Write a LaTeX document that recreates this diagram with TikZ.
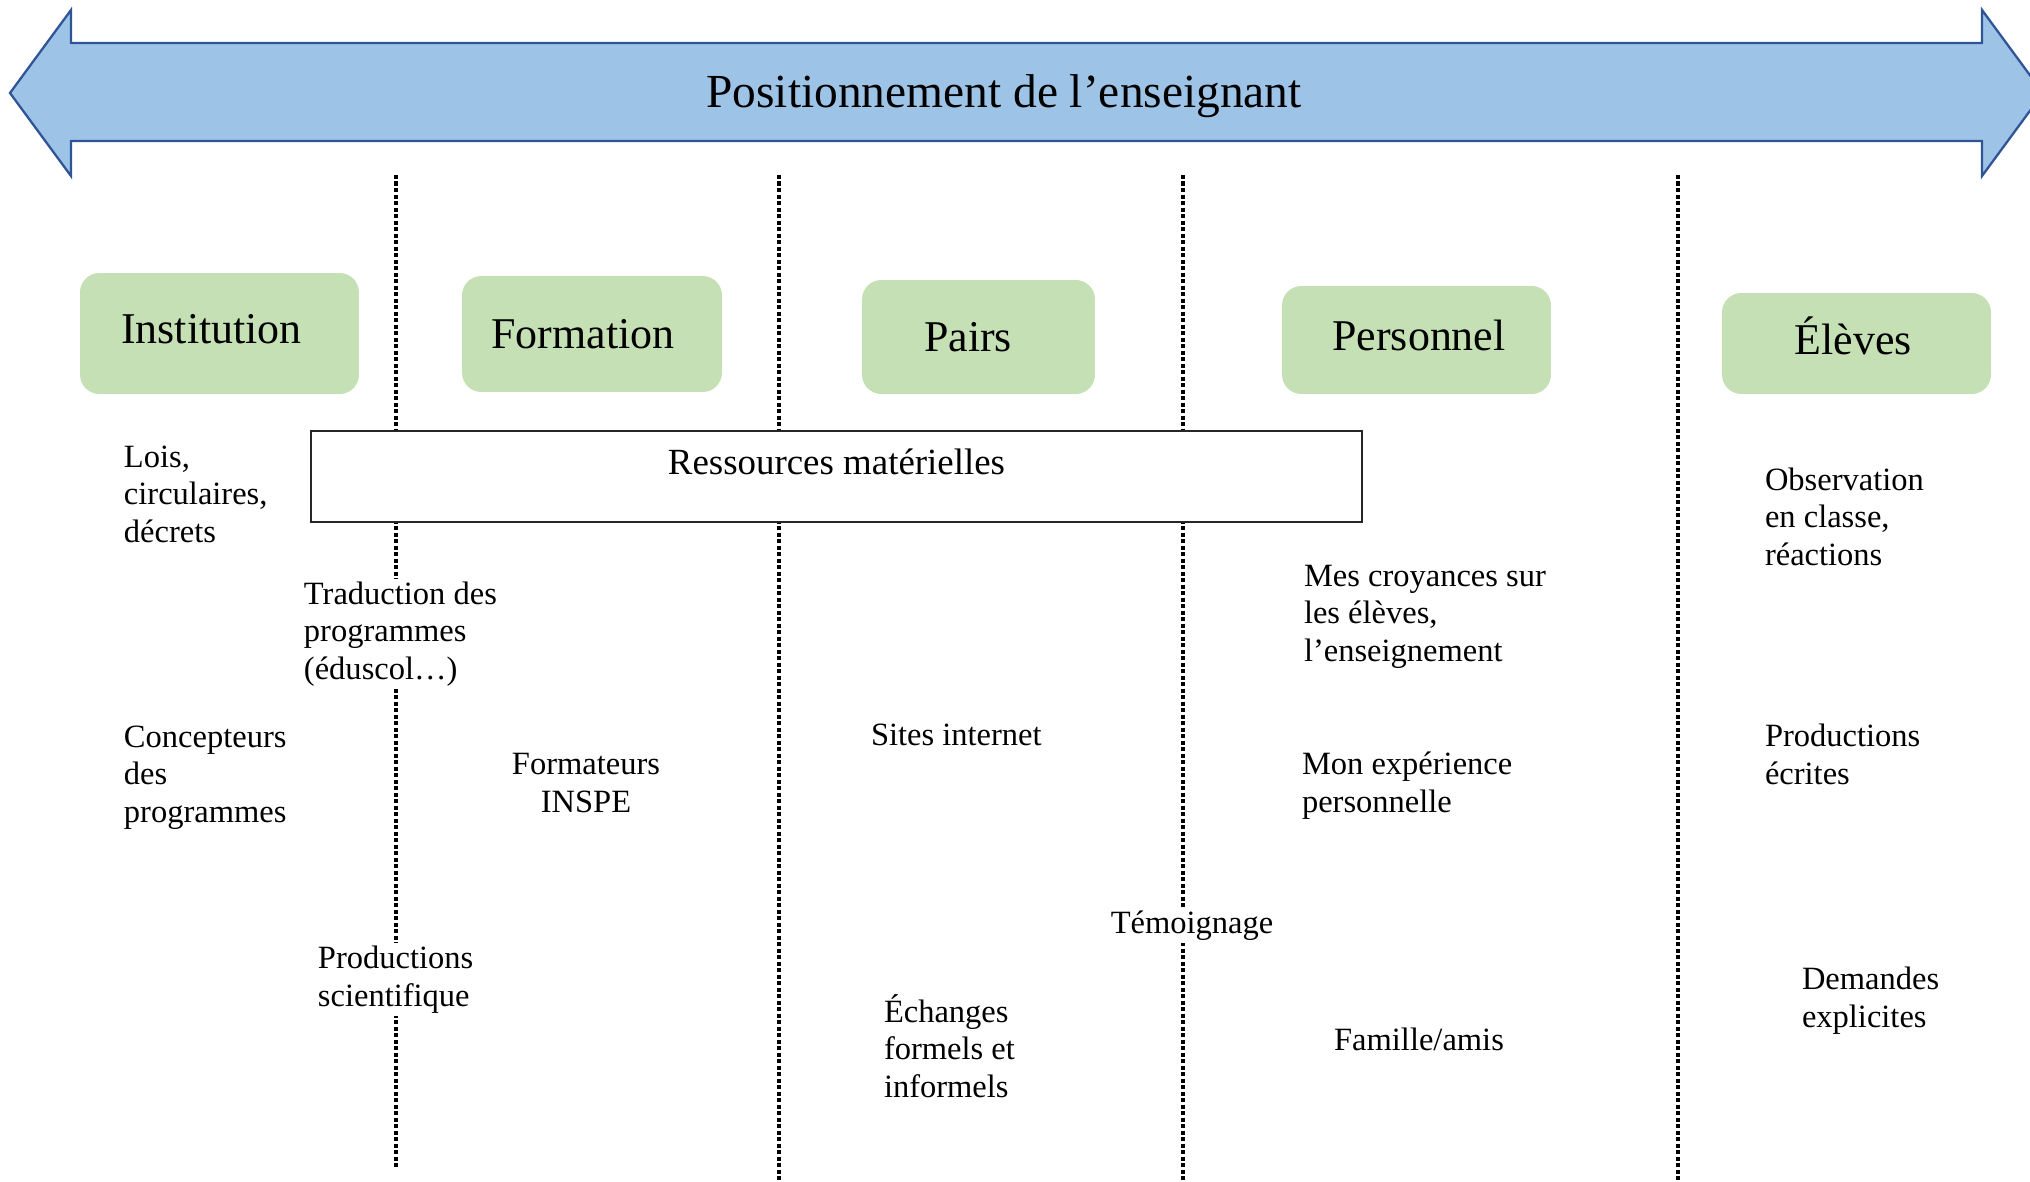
\documentclass[tikz,border=0pt]{standalone}
\usepackage{fontspec}
\setmainfont{Liberation Serif}
\usetikzlibrary{positioning}

\definecolor{arrowfill}{HTML}{9DC3E6}
\definecolor{arrowdraw}{HTML}{2F5597}
\definecolor{catfill}{HTML}{C5E0B4}

\begin{document}
\begin{tikzpicture}
    [x=0.02cm,y=-0.02cm,
     cat/.style={rectangle,rounded corners=11pt,fill=catfill,inner sep=0pt},
     catlbl/.style={inner sep=0pt,font=\fontsize{25}{30}\selectfont},
     src/.style={fill=white,inner sep=1.5pt,align=left,anchor=base west,
       font=\fontsize{18.5}{21.3}\selectfont},
     sep/.style={line width=2.6pt,dash pattern=on 2.4pt off 1.3pt}]

    \useasboundingbox (0,0) rectangle (2030,1182);

    % the double arrow on top
    \draw[arrowdraw,fill=arrowfill,line width=1.3pt,line join=miter]
      (10,93) -- (71,10) -- (71,43) -- (1982,43) -- (1982,10) -- (2043,93)
      -- (1982,176) -- (1982,141) -- (71,141) -- (71,176) -- cycle;
    \node[anchor=base,font=\fontsize{27}{32}\selectfont] (title) at (1004,108)
      {Positionnement de l’enseignant};

    % dotted separators
    \foreach \x/\y in {396/1167,779/1182,1183/1182,1678/1182}
      \draw[sep] (\x,175) -- (\x,\y);

    % categories
    \node[cat,minimum width=5.58cm,minimum height=2.42cm] (institution) at (219.5,333.5) {};
    \node[cat,minimum width=5.2cm,minimum height=2.32cm] (formation) at (592,334) {};
    \node[cat,minimum width=4.66cm,minimum height=2.28cm] (pairs) at (978.5,337) {};
    \node[cat,minimum width=5.38cm,minimum height=2.16cm] (personnel) at (1416.5,340) {};
    \node[cat,minimum width=5.38cm,minimum height=2.02cm] (eleves) at (1856.5,343.5) {};

    \node[catlbl] (institution-t) at ([shift={(-8,-4.5)}]institution.center) {Institution};
    \node[catlbl] (formation-t) at ([shift={(-9,0)}]formation.center) {Formation};
    \node[catlbl] (pairs-t) at ([shift={(-10.5,0)}]pairs.center) {Pairs};
    \node[catlbl] (personnel-t) at ([shift={(2.5,-5)}]personnel.center) {Personnel};
    \node[catlbl] (eleves-t) at ([shift={(-3.5,-8)}]eleves.center) {Élèves};

    \node[draw=black!85,fill=white,line width=0.8pt,inner ysep=0pt,
      minimum width=21.02cm,text height=24.8pt,text depth=27pt,
      font=\fontsize{21}{25}\selectfont] (ressources) at (836.5,476.5)
      {Ressources matérielles};

    % sources (placed by the baseline of their last line)
    \node[src] (lois) at (121,542) {Lois,\\circulaires,\\décrets};
    \node[src] (traduction) at (301,679) {Traduction des\\programmes\\(éduscol…)};
    \node[src] (concepteurs) at (121,822) {Concepteurs\\des\\programmes};
    \node[src] (prodsci) at (315,1006) {Productions\\scientifique};

    \node[src,align=center,anchor=base] (formateurs) at (586,812) {Formateurs\\INSPE};

    \node[src] (sites) at (868,745) {Sites internet};
    \node[src] (echanges) at (881,1097) {Échanges\\formels et\\informels};
    \node[src,anchor=base] (temoignage) at (1192,933) {Témoignage};

    \node[src] (croyances) at (1301,661) {Mes croyances sur\\les élèves,\\l’enseignement};
    \node[src] (experience) at (1299,812) {Mon expérience\\personnelle};
    \node[src,anchor=base] (famille) at (1419,1050) {Famille/amis};

    \node[src] (observation) at (1762,565) {Observation\\en classe,\\réactions};
    \node[src] (prodecr) at (1762,784) {Productions\\écrites};
    \node[src] (demandes) at (1799,1027) {Demandes\\explicites};
\end{tikzpicture}
\end{document}
